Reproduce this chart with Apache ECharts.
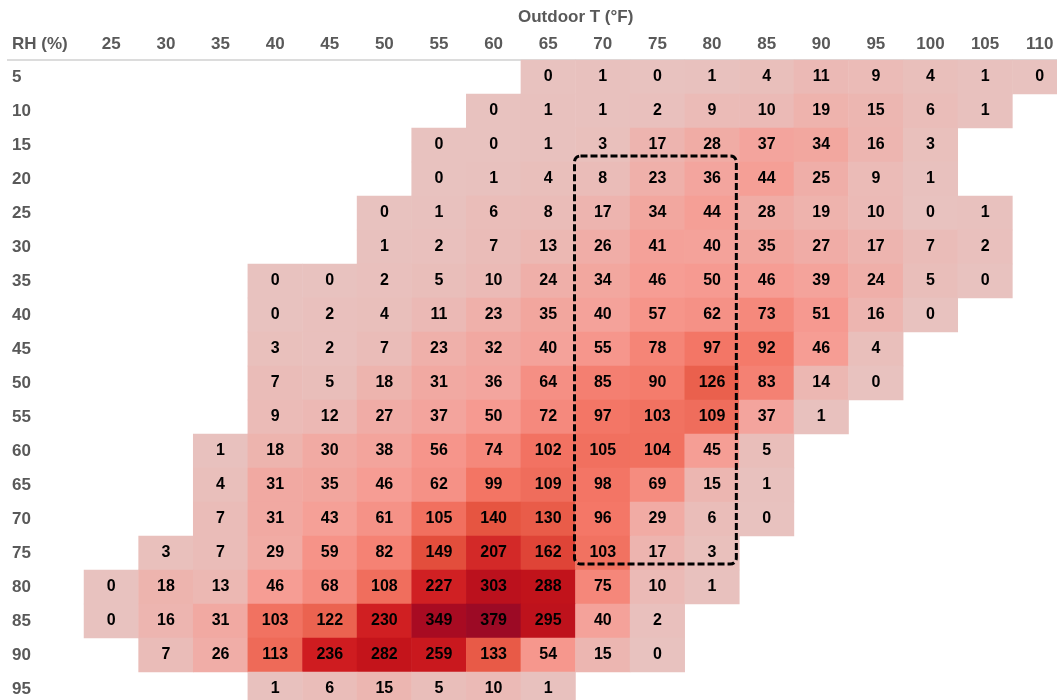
<!DOCTYPE html>
<html>
<head>
<meta charset="utf-8">
<script src="https://cdn.jsdelivr.net/npm/echarts@6/dist/echarts.min.js"></script>
<style>
html,body{margin:0;padding:0;background:#fff;}
#chart{width:1057px;height:700px;}
</style>
</head>
<body>
<div id="chart"></div>
<script>
// Outdoor temperature categories (°F)
const tempLabels = ['25','30','35','40','45','50','55','60','65','70','75','80','85','90','95','100','105','110'];
// Relative humidity categories (%)
const rhLabels = ['5','10','15','20','25','30','35','40','45','50','55','60','65','70','75','80','85','90','95'];
// Counts: one row per RH value, one column per temperature (null = empty)
const _ = null;
const counts = [
  /* 5  */ [_,_,_,_,_,_,_,_,0,1,0,1,4,11,9,4,1,0],
  /* 10 */ [_,_,_,_,_,_,_,0,1,1,2,9,10,19,15,6,1,_],
  /* 15 */ [_,_,_,_,_,_,0,0,1,3,17,28,37,34,16,3,_,_],
  /* 20 */ [_,_,_,_,_,_,0,1,4,8,23,36,44,25,9,1,_,_],
  /* 25 */ [_,_,_,_,_,0,1,6,8,17,34,44,28,19,10,0,1,_],
  /* 30 */ [_,_,_,_,_,1,2,7,13,26,41,40,35,27,17,7,2,_],
  /* 35 */ [_,_,_,0,0,2,5,10,24,34,46,50,46,39,24,5,0,_],
  /* 40 */ [_,_,_,0,2,4,11,23,35,40,57,62,73,51,16,0,_,_],
  /* 45 */ [_,_,_,3,2,7,23,32,40,55,78,97,92,46,4,_,_,_],
  /* 50 */ [_,_,_,7,5,18,31,36,64,85,90,126,83,14,0,_,_,_],
  /* 55 */ [_,_,_,9,12,27,37,50,72,97,103,109,37,1,_,_,_,_],
  /* 60 */ [_,_,1,18,30,38,56,74,102,105,104,45,5,_,_,_,_,_],
  /* 65 */ [_,_,4,31,35,46,62,99,109,98,69,15,1,_,_,_,_,_],
  /* 70 */ [_,_,7,31,43,61,105,140,130,96,29,6,0,_,_,_,_,_],
  /* 75 */ [_,3,7,29,59,82,149,207,162,103,17,3,_,_,_,_,_,_],
  /* 80 */ [0,18,13,46,68,108,227,303,288,75,10,1,_,_,_,_,_,_],
  /* 85 */ [0,16,31,103,122,230,349,379,295,40,2,_,_,_,_,_,_,_],
  /* 90 */ [_,7,26,113,236,282,259,133,54,15,0,_,_,_,_,_,_,_],
  /* 95 */ [_,_,_,1,6,15,5,10,1,_,_,_,_,_,_,_,_,_]
];
// Highlighted region (temperature / RH range)
const boxTemps = ['70','80'];
const boxRH = ['20','75'];

const heatData = [];
counts.forEach((row, yi) => {
  row.forEach((v, xi) => {
    if (v !== null) heatData.push([xi, yi, v]);
  });
});

const FONT = '"Liberation Sans", Arial, sans-serif';
const chart = echarts.init(document.getElementById('chart'));
const option = {
  animation: false,
  backgroundColor: '#ffffff',
  grid: { left: 84, top: 60, width: 983, height: 646, containLabel: false, outerBoundsMode: 'none' },
  xAxis: {
    type: 'category',
    position: 'top',
    data: tempLabels,
    axisLine: { show: false },
    axisTick: { show: false },
    splitLine: { show: false },
    splitArea: { show: false },
    axisLabel: { color: '#595959', fontWeight: 'bold', fontSize: 17, fontFamily: FONT, margin: 7 }
  },
  yAxis: {
    type: 'category',
    inverse: true,
    data: rhLabels,
    axisLine: { show: false },
    axisTick: { show: false },
    splitLine: { show: false },
    splitArea: { show: false },
    axisLabel: { color: '#595959', fontWeight: 'bold', fontSize: 17, fontFamily: FONT, align: 'left', margin: 72 }
  },
  visualMap: {
    show: false,
    type: 'continuous',
    min: 0,
    max: 379,
    dimension: 2,
    inRange: {
      color: ['#E8C2BF', '#F69C93', '#F47868', '#E5533F', '#D6302C', '#CF1C20', '#C3141B', '#AF0C20', '#9C0A25']
    }
  },
  series: [{
    type: 'heatmap',
    data: heatData,
    itemStyle: { borderWidth: 0 },
    label: {
      show: true,
      color: '#000',
      fontWeight: 'bold',
      fontSize: 16,
      fontFamily: FONT
    },
    emphasis: { disabled: true }
  }],
  graphic: [
    { type: 'text', x: 518, y: 17, style: { text: 'Outdoor T (°F)', fill: '#595959', font: 'bold 17px ' + FONT, textVerticalAlign: 'middle' } },
    { type: 'text', x: 12, y: 44, style: { text: 'RH (%)', fill: '#595959', font: 'bold 17px ' + FONT, textVerticalAlign: 'middle' } },
    { type: 'line', z: -1, shape: { x1: 7, y1: 60, x2: 1057, y2: 60 }, style: { stroke: '#dcdcdc', lineWidth: 2 } }
  ]
};
chart.setOption(option);

// Dashed highlight box, positioned from the axis scales
const xi0 = tempLabels.indexOf(boxTemps[0]);
const xi1 = tempLabels.indexOf(boxTemps[1]);
const yi0 = rhLabels.indexOf(boxRH[0]);
const yi1 = rhLabels.indexOf(boxRH[1]);
const pA = chart.convertToPixel({ gridIndex: 0 }, [xi0, yi0]);
const pB = chart.convertToPixel({ gridIndex: 0 }, [xi1, yi1]);
const pC = chart.convertToPixel({ gridIndex: 0 }, [xi0 + 1, yi0 + 1]);
const cw = pC[0] - pA[0];
const ch = pC[1] - pA[1];
const bx = pA[0] - cw / 2 - 1;
const by = pA[1] - ch / 2 - 6;
const bw = (pB[0] + cw / 2 - 3) - bx;
const bh = (pB[1] + ch / 2 - 6) - by;
option.graphic.push({
  type: 'rect',
  z: 100,
  shape: { x: bx, y: by, width: bw, height: bh, r: 6 },
  style: { fill: 'none', stroke: '#000', lineWidth: 3, lineDash: [7, 3] }
});
chart.setOption({ graphic: option.graphic });
</script>
</body>
</html>
